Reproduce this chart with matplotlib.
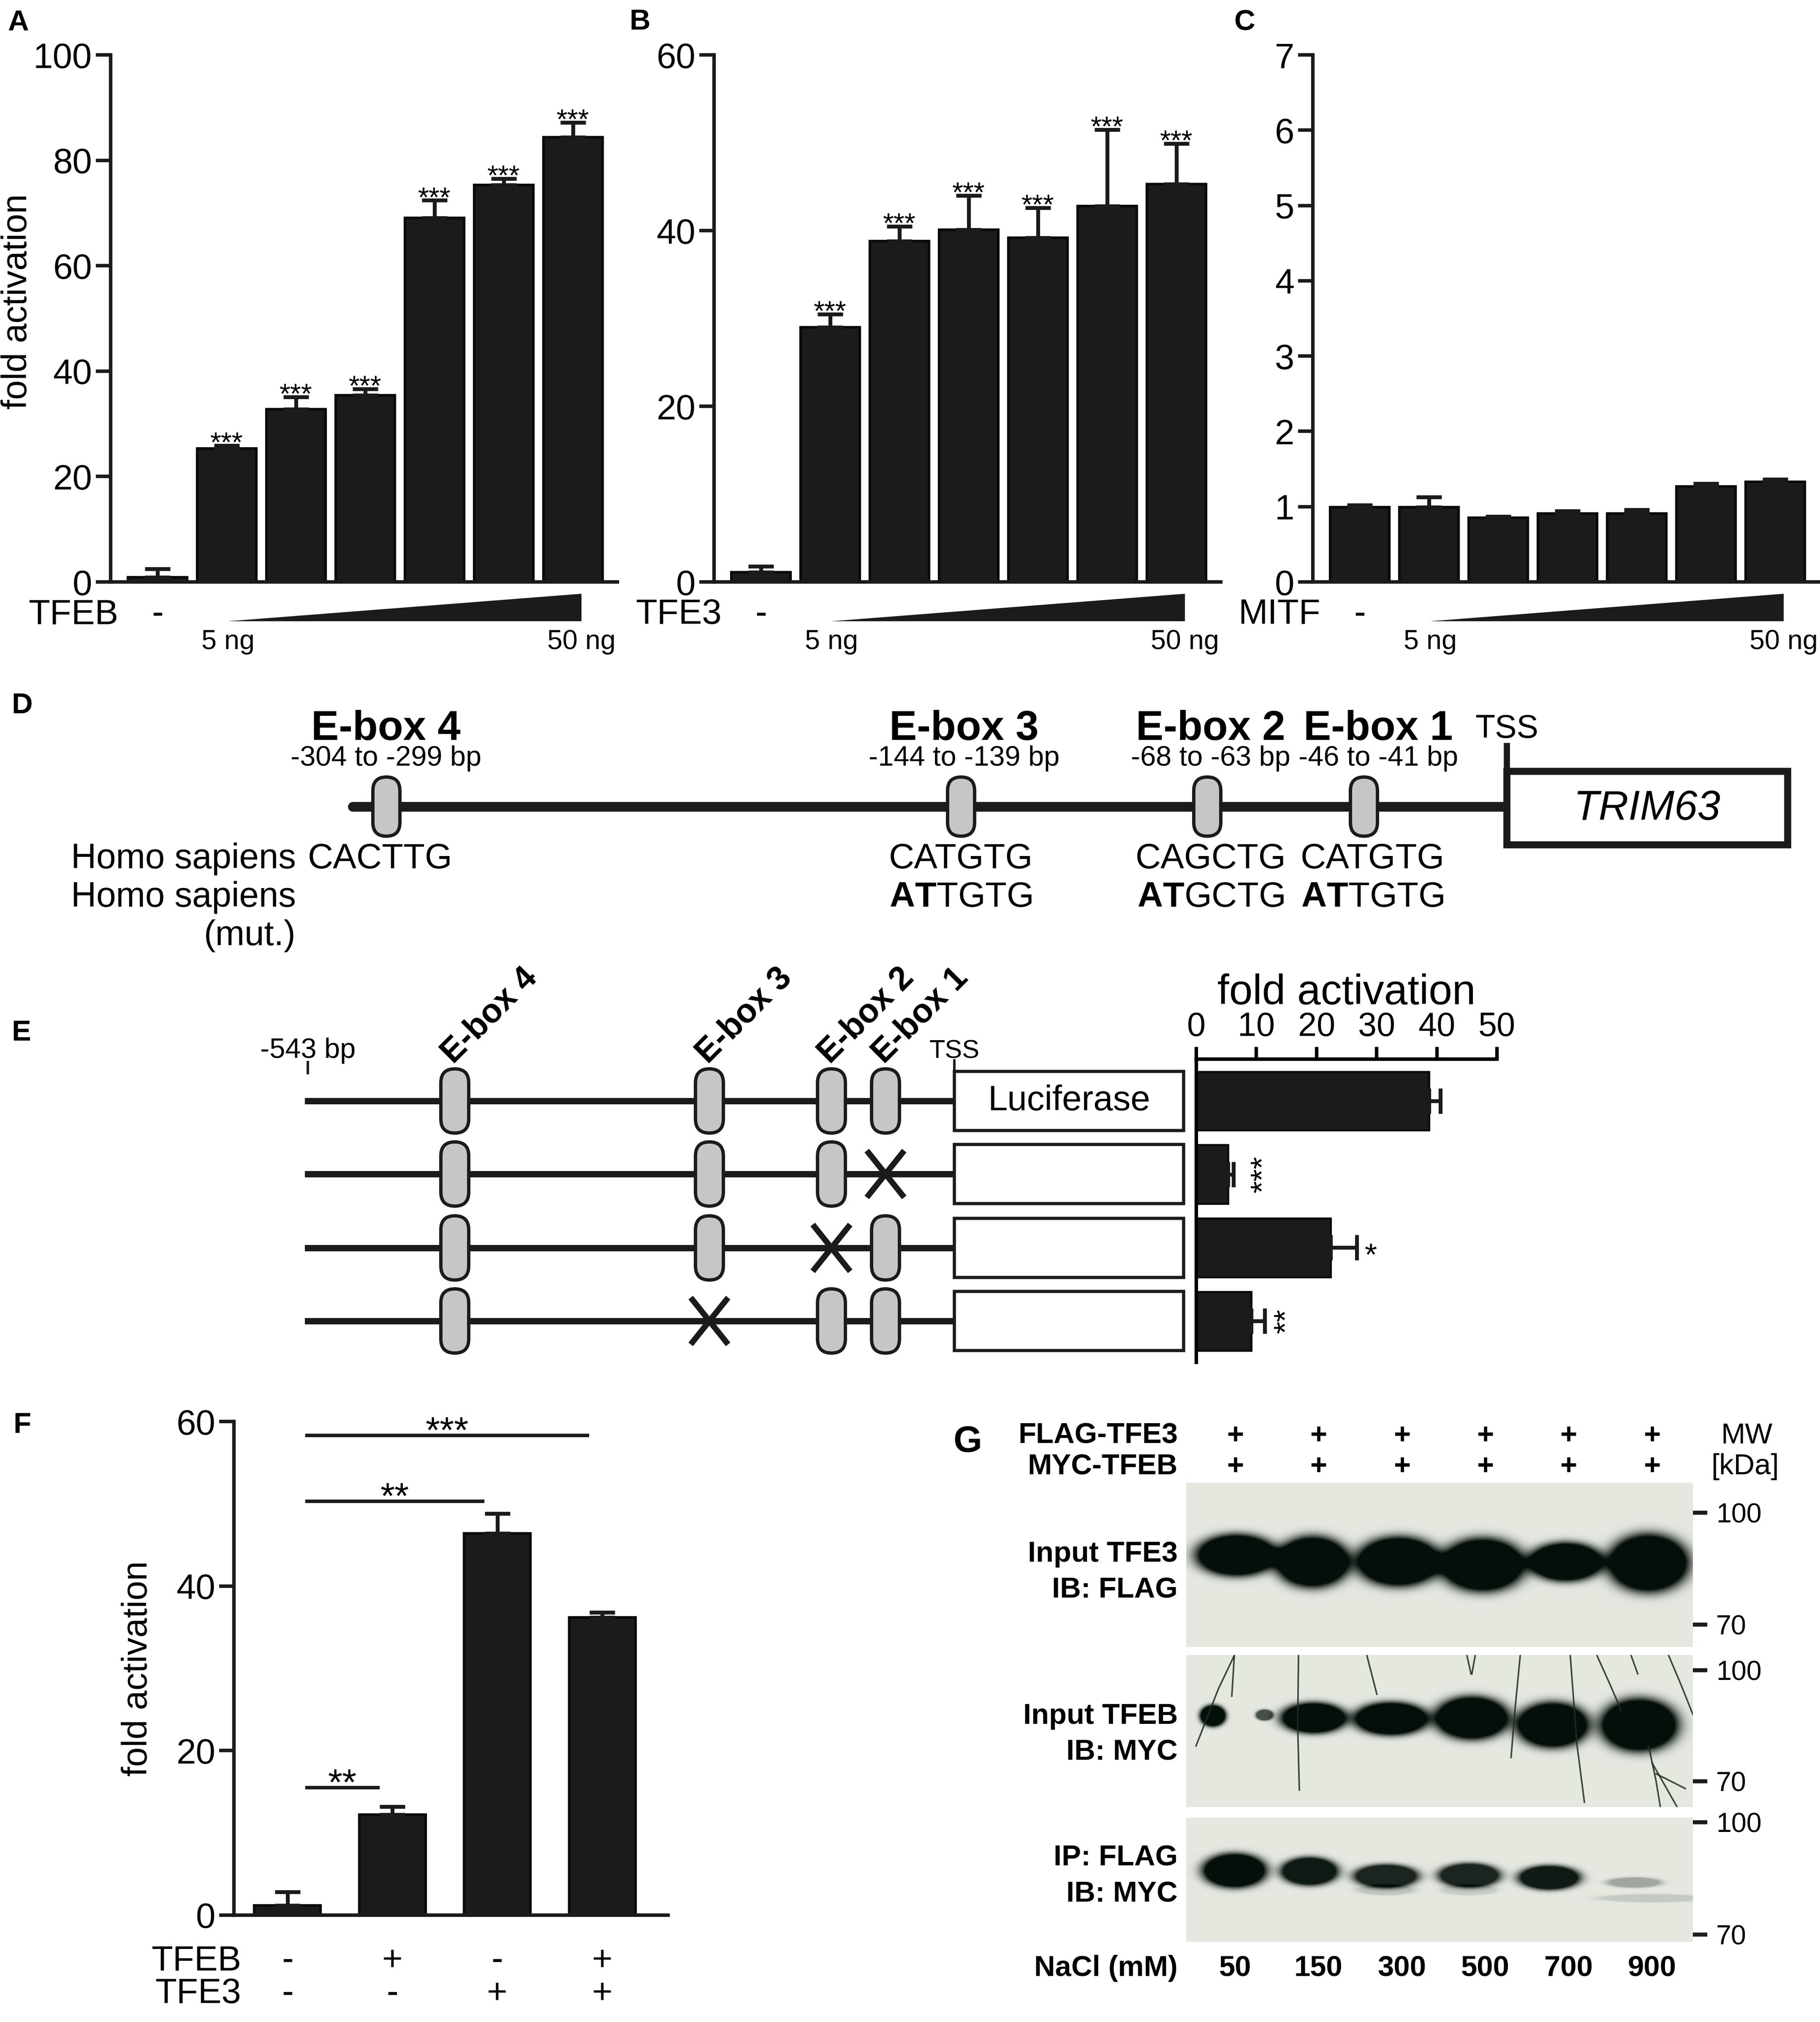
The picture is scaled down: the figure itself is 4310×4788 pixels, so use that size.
import numpy as np
import matplotlib
matplotlib.use('Agg')
import matplotlib.pyplot as plt
from matplotlib.patches import Polygon, Rectangle, FancyBboxPatch
from matplotlib.transforms import blended_transform_factory as blend

plt.rcParams['font.family'] = ['Liberation Sans', 'DejaVu Sans']
plt.rcParams['mathtext.fontset'] = 'custom'
plt.rcParams['mathtext.rm'] = 'Liberation Sans'
plt.rcParams['mathtext.bf'] = 'Liberation Sans:bold'
plt.rcParams['axes.facecolor'] = 'none'

W, H = 4310, 4788
INK = '#1b1b19'

# A-C: dose response of the TRIM63 reporter
tfeb_fold = [0.9, 25.3, 32.8, 35.4, 69.1, 75.3, 84.4]
tfeb_err = [1.6, 0.6, 2.3, 1.2, 3.3, 1.2, 2.8]
tfe3_fold = [1.1, 29.0, 38.8, 40.1, 39.2, 42.8, 45.3]
tfe3_err = [0.7, 1.5, 1.7, 3.9, 3.4, 8.7, 4.6]
mitf_fold = [0.99, 0.99, 0.85, 0.91, 0.91, 1.27, 1.33]
mitf_err = [0.03, 0.14, 0.02, 0.03, 0.05, 0.035, 0.035]
dose_ends = ['5 ng', '50 ng']

# D: promoter map
ebox_names = ['E-box 4', 'E-box 3', 'E-box 2', 'E-box 1']
ebox_ranges = ['-304 to -299 bp', '-144 to -139 bp', '-68 to -63 bp', '-46 to -41 bp']
seq_wt = ['CACTTG', 'CATGTG', 'CAGCTG', 'CATGTG']
seq_mut = [None, r'$\mathbf{AT}$TGTG', r'$\mathbf{AT}$GCTG', r'$\mathbf{AT}$TGTG']

# E: mutant constructs
construct_mutated = [None, 'E-box 1', 'E-box 2', 'E-box 3']
construct_fold = [38.7, 5.3, 22.3, 9.1]
construct_err = [1.9, 0.9, 4.4, 2.3]
construct_stars = ['', '***', '*', '**']

# F: TFEB / TFE3 combination
f_tfeb = ['-', '+', '-', '+']
f_tfe3 = ['-', '-', '+', '+']
f_fold = [1.2, 12.2, 46.4, 36.2]
f_err = [1.6, 1.0, 2.4, 0.6]
f_brackets = [(1, 15.5, '**'), (2, 50.3, '**'), (3, 58.3, '***')]

# G: co-IP under increasing salt
nacl_mm = [50, 150, 300, 500, 700, 900]
input_tfe3_signal = [1.0, 1.0, 1.0, 1.0, 1.0, 1.0]
input_tfeb_signal = [1.0, 1.0, 1.0, 1.0, 1.0, 1.0]
ip_tfeb_signal = [1.0, 0.95, 0.9, 0.9, 0.95, 0.3]

fig = plt.figure(figsize=(W / 300, H / 300), dpi=300)

ov = fig.add_axes([0, 0, 1, 1])
ov.set_xlim(0, W)
ov.set_ylim(H, 0)
ov.axis('off')


def px_axes(x0, y0, x1, y1):
    return fig.add_axes([x0 / W, 1 - y1 / H, (x1 - x0) / W, (y1 - y0) / H])


def letter(x, y, s, size=16.5):
    ov.text(x, y, s, ha='left', va='top', fontsize=size, fontweight='bold')


def bar_axes_style(ax, ticks):
    for s in ['top', 'right']:
        ax.spines[s].set_visible(False)
    for s in ['left', 'bottom']:
        ax.spines[s].set_linewidth(2.0)
        ax.spines[s].set_color(INK)
    ax.set_xticks([])
    ax.set_yticks(ticks)
    ax.tick_params(axis='y', length=8.5, width=2.0, labelsize=20, pad=2, color=INK)


def dose_panel(x0, fold, err, ticks, factor, stars):
    ax = px_axes(x0, 130, x0 + 1200, 1378)
    n = len(fold)
    pos = np.arange(n)
    ax.set_xlim(-111 / 164, (1200 - 111) / 164)
    ax.set_ylim(0, ticks[-1])
    ax.bar(pos, fold, 0.85, color=INK, edgecolor='#0a0a0a', lw=1.5, zorder=2)
    ax.errorbar(pos, fold, yerr=[np.zeros(n), err], fmt='none', ecolor=INK,
                elinewidth=2.2, capsize=7.2, capthick=2.2, zorder=3)
    bar_axes_style(ax, ticks)
    if stars:
        for i in range(1, n):
            ax.annotate('***', (pos[i], fold[i] + err[i]), xytext=(0, -3.5),
                        textcoords='offset points', ha='center', va='baseline',
                        fontsize=16)
    tr = blend(ax.transData, ov.transData)
    ov.text(x0 + 18, 1455, factor, ha='right', va='center', fontsize=20)
    ax.text(0, 1455, '-', transform=tr, ha='center', va='center', fontsize=20)
    ax.add_patch(Polygon([(1.02, 1471), (6.12, 1471), (6.12, 1406)], closed=True,
                         transform=tr, clip_on=False, fc=INK, ec='none'))
    ax.text(1.02, 1520, dose_ends[0], transform=tr, ha='center', va='center', fontsize=15.5)
    ax.text(6.12, 1520, dose_ends[1], transform=tr, ha='center', va='center', fontsize=15.5)
    return ax


# ---------------- A, B, C
dose_panel(262, tfeb_fold, tfeb_err, [0, 20, 40, 60, 80, 100], 'TFEB', True)
dose_panel(1691, tfe3_fold, tfe3_err, [0, 20, 40, 60], 'TFE3', True)
dose_panel(3109, mitf_fold, mitf_err, [0, 1, 2, 3, 4, 5, 6, 7], 'MITF', False)
ov.text(41, 714, 'fold activation', rotation=90, ha='center', va='center', fontsize=20)
letter(18, 22, 'A')
letter(1490, 20, 'B')
letter(2922, 22, 'C')

# ---------------- D
letter(27, 1639, 'D')
d_line_y = 1910
d_ebox_x = [915, 2276, 2859, 3230]
d_label_x = [914, 2283, 2867, 3264]
d_seq_x = [900, 2275, 2867, 3250]
tss_x = 3568
ov.plot([835, tss_x], [d_line_y, d_line_y], color=INK, lw=5.5,
        solid_capstyle='round', zorder=2)
for x, lx, sx, name, rng, wt, mut in zip(d_ebox_x, d_label_x, d_seq_x, ebox_names,
                                         ebox_ranges, seq_wt, seq_mut):
    ov.add_patch(FancyBboxPatch((x - 32, d_line_y - 70), 64, 140,
                                boxstyle='round,pad=0,rounding_size=32',
                                fc='#c6c6c6', ec=INK, lw=1.9, zorder=3))
    ov.text(lx, 1752, name, ha='center', va='baseline', fontsize=23.5, fontweight='bold')
    ov.text(lx, 1813, rng, ha='center', va='baseline', fontsize=16)
    ov.text(sx, 2056, wt, ha='center', va='baseline', fontsize=20)
    if mut:
        ov.text(sx, 2147, mut, ha='center', va='baseline', fontsize=20)
ov.plot([tss_x, tss_x], [1766, 1830], color=INK, lw=3.5, zorder=2)
ov.text(tss_x, 1747, 'TSS', ha='center', va='baseline', fontsize=18.5)
ov.add_patch(Rectangle((tss_x, 1826), 665, 174, fc='white', ec=INK, lw=4, zorder=4))
ov.text(tss_x + 332, 1915, 'TRIM63', ha='center', va='center', fontsize=23.5,
        style='italic', zorder=5)
ov.text(701, 2056, 'Homo sapiens', ha='right', va='baseline', fontsize=20)
ov.text(701, 2147, 'Homo sapiens', ha='right', va='baseline', fontsize=20)
ov.text(701, 2238, '(mut.)', ha='right', va='baseline', fontsize=20)

# ---------------- E
letter(27, 2414, 'E')
row_y = [2607, 2780, 2955, 3128]
e_ebox_x = [1077, 1680, 1969, 2097]
line_x0, box_x0, box_x1 = 729, 2260, 2803
ov.text(616, 2505, '-543 bp', ha='left', va='baseline', fontsize=16)
ov.plot([line_x0, line_x0], [2515, 2541], color=INK, lw=1.4)
ov.plot([box_x0, box_x0], [2511, 2537], color=INK, lw=1.4)
ov.text(box_x0, 2505, 'TSS', ha='center', va='baseline', fontsize=14.7)
for x, name in zip(e_ebox_x, ebox_names):
    ov.text(x - 4, row_y[0] - 86, name, rotation=45, rotation_mode='anchor',
            ha='left', va='baseline', fontsize=19, fontweight='bold')
for r, y in enumerate(row_y):
    ov.plot([line_x0, box_x0], [y, y], color=INK, lw=3.6, zorder=2)
    ov.add_patch(Rectangle((box_x0, y - 70), box_x1 - box_x0, 140, fc='white',
                           ec=INK, lw=1.8, zorder=3))
    for x, name in zip(e_ebox_x, ebox_names):
        if construct_mutated[r] == name:
            ov.plot([x - 40, x + 40], [y - 50, y + 50], color=INK, lw=3.3, zorder=4)
            ov.plot([x - 40, x + 40], [y + 50, y - 50], color=INK, lw=3.3, zorder=4)
        else:
            ov.add_patch(FancyBboxPatch((x - 33, y - 76), 66, 152,
                                        boxstyle='round,pad=0,rounding_size=33',
                                        fc='#c6c6c6', ec=INK, lw=1.9, zorder=3))
ov.text((box_x0 + box_x1) / 2, row_y[0], 'Luciferase', ha='center', va='center',
        fontsize=20, zorder=5)

axe = px_axes(2833, 2508, 3545, 3226)
axe.set_xlim(0, 50)
axe.set_ylim(3.564, -0.57)
rows = np.arange(len(construct_fold))
axe.barh(rows, construct_fold, 0.8, color=INK, edgecolor='#0a0a0a', lw=1.2, zorder=2)
axe.errorbar(construct_fold, rows, xerr=[np.zeros(len(rows)), construct_err], fmt='none',
             ecolor=INK, elinewidth=2.2, capsize=7.2, capthick=2.2, zorder=3)
for s in ['bottom', 'right']:
    axe.spines[s].set_visible(False)
for s in ['top', 'left']:
    axe.spines[s].set_linewidth(2.0)
axe.xaxis.tick_top()
axe.set_xticks(range(0, 51, 10))
axe.set_yticks([])
axe.tick_params(axis='x', length=7, width=2.0, labelsize=19, pad=2)
star_dx = [0, 9, 4.5, 4.5]
for i, s in enumerate(construct_stars):
    if not s:
        continue
    end = construct_fold[i] + construct_err[i]
    if len(s) > 1:
        axe.annotate(s, (end, i), xytext=(star_dx[i], 0), textcoords='offset points',
                     rotation=90, ha='left', va='center', fontsize=18)
    else:
        axe.annotate(s, (end, i), xytext=(star_dx[i], -10), textcoords='offset points',
                     ha='left', va='baseline', fontsize=18)
ov.text(3189, 2378, 'fold activation', ha='center', va='baseline', fontsize=24)

# ---------------- F
letter(31, 3343, 'F')
axf = px_axes(554, 3366, 1582, 4535)
fpos = np.arange(len(f_fold))
axf.set_xlim(-0.511, 3.628)
axf.set_ylim(0, 60)
axf.bar(fpos, f_fold, 0.632, color=INK, edgecolor='#0a0a0a', lw=1.5, zorder=2)
axf.errorbar(fpos, f_fold, yerr=[np.zeros(len(fpos)), f_err], fmt='none', ecolor=INK,
             elinewidth=2.2, capsize=7.2, capthick=2.2, zorder=3)
bar_axes_style(axf, [0, 20, 40, 60])
for target, yv, s in f_brackets:
    x0b, x1b = 0.185, target - 0.14
    axf.plot([x0b, x1b], [yv, yv], color=INK, lw=2.0, clip_on=False)
    axf.annotate(s, ((x0b + x1b) / 2, yv), xytext=(0, -4), textcoords='offset points',
                 ha='center', va='baseline', fontsize=21, annotation_clip=False)
ov.text(326, 3951, 'fold activation', rotation=90, ha='center', va='center', fontsize=20)
trf = blend(axf.transData, ov.transData)
ov.text(571, 4643, 'TFEB', ha='right', va='center', fontsize=20)
ov.text(571, 4721, 'TFE3', ha='right', va='center', fontsize=20)
for i in fpos:
    axf.text(i, 4643, f_tfeb[i], transform=trf, ha='center', va='center', fontsize=20)
    axf.text(i, 4721, f_tfe3[i], transform=trf, ha='center', va='center', fontsize=20)

# ---------------- G
letter(2257, 3375, 'G', size=21)
lane_x0, lane_pitch = 2925, 197.4
blot_x0, blot_x1 = 2809, 4009
gx = ((blot_x0 - lane_x0) / lane_pitch, (blot_x1 - lane_x0) / lane_pitch)

# (lane offset, centre kDa, half width in lanes, half height kDa)
blot1_shape = [(0.015, 88.6, 0.47, 5.4), (-0.073, 86.8, 0.43, 6.6), (-0.04, 86.9, 0.49, 6.4),
               (-0.03, 86.0, 0.49, 6.9), (-0.03, 86.8, 0.43, 5.0), (-0.04, 86.5, 0.47, 7.5)]
blot2_shape = [(-0.27, 87.7, 0.15, 2.8), (-0.06, 87.1, 0.38, 4.0), (-0.13, 86.9, 0.43, 4.3),
               (-0.16, 87.1, 0.43, 5.6), (-0.19, 85.2, 0.42, 5.9), (-0.15, 85.2, 0.45, 6.9)]
blot3_shape = [(-0.01, 87.1, 0.37, 4.4), (-0.11, 86.9, 0.33, 3.6), (-0.19, 85.6, 0.37, 3.0),
               (-0.19, 85.8, 0.355, 3.1), (-0.23, 85.2, 0.355, 3.1), (-0.21, 83.9, 0.31, 1.3)]
blot2_extra = [(0.35, 87.9, 0.1, 1.4, 0.7)]
blot3_extra = [(1.81, 81.9, 0.33, 1.3, 0.15), (2.81, 81.9, 0.32, 1.3, 0.12),
               (5.0, 79.7, 0.6, 1.0, 0.14)]
blot2_streaks = [[(-0.01, 104), (-0.2, 95), (-0.47, 79.5)], [(-0.01, 104), (-0.04, 93)],
                 [(0.76, 104), (0.75, 85), (0.77, 67.6)], [(1.58, 104), (1.7, 93.5)],
                 [(2.78, 104), (2.83, 99)], [(2.88, 104), (2.84, 99)],
                 [(3.42, 104), (3.36, 90), (3.31, 76.4)], [(4.02, 104), (4.1, 80), (4.19, 64.3)],
                 [(4.34, 104), (4.5, 96), (4.63, 89.2)], [(4.75, 104), (4.83, 99)],
                 [(5.2, 104), (5.35, 96), (5.49, 88.1)], [(4.96, 79.5), (5.05, 70), (5.1, 63.1)],
                 [(5.0, 75), (5.3, 63.1)], [(5.05, 72), (5.4, 68)]]


def blot(y0, y1, kda_top, kda_bot, shapes, signal, extra=(), streaks=()):
    ax = px_axes(blot_x0, y0, blot_x1, y1)
    ax.set_xlim(*gx)
    ax.set_ylim(kda_bot, kda_top)
    xs = np.linspace(gx[0], gx[1], 800)
    ys = np.linspace(kda_bot, kda_top, 260)
    X, Y = np.meshgrid(xs, ys)
    dens = np.zeros_like(X)
    bands = [(i + dx, cy, hx, hy, signal[i]) for i, (dx, cy, hx, hy) in enumerate(shapes)]
    for cx, cy, hx, hy, amp in list(bands) + list(extra):
        r = np.sqrt(((X - cx) / hx) ** 2 + ((Y - cy) / hy) ** 2)
        dens += amp * np.clip(2.2 * np.exp(-r ** 4), 0, 1)
    dens = np.clip(dens, 0, 1)[..., None]
    bg = np.array([0.895, 0.91, 0.878])
    ink = np.array([0.02, 0.06, 0.04])
    ax.imshow(bg * (1 - dens) + ink * dens, extent=[gx[0], gx[1], kda_bot, kda_top],
              origin='lower', aspect='auto', interpolation='bilinear')
    for line in streaks:
        sx, sy = zip(*line)
        ax.plot(sx, sy, color='#1e2c22', lw=0.9, alpha=0.85)
    for s in ax.spines.values():
        s.set_visible(False)
    ax.set_xticks([])
    ax.yaxis.tick_right()
    ax.set_yticks([70, 100])
    ax.tick_params(axis='y', right=True, left=False, length=8.2, width=2.3,
                   labelsize=15.5, pad=5, color=INK)
    return ax


b1 = blot(3511, 3900, 108.0, 64.0, blot1_shape, input_tfe3_signal)
b2 = blot(3919, 4279, 104.1, 63.0, blot2_shape, input_tfeb_signal, blot2_extra, blot2_streaks)
b3 = blot(4304, 4598, 101.2, 68.1, blot3_shape, ip_tfeb_signal, blot3_extra)

trg = blend(b1.transData, ov.transData)
bold = dict(fontsize=16.5, fontweight='bold')
ov.text(2789, 3400, 'FLAG-TFE3', ha='right', va='center', **bold)
ov.text(2789, 3473, 'MYC-TFEB', ha='right', va='center', **bold)
ov.text(4136, 3400, 'MW', ha='center', va='center', fontsize=16.5)
ov.text(4132, 3473, '[kDa]', ha='center', va='center', fontsize=16.5)
for i, mm in enumerate(nacl_mm):
    b1.text(i, 3400, '+', transform=trg, ha='center', va='center', **bold)
    b1.text(i, 3473, '+', transform=trg, ha='center', va='center', **bold)
    b1.text(i, 4661, str(mm), transform=trg, ha='center', va='center', **bold)
ov.text(2789, 3680, 'Input TFE3', ha='right', va='center', **bold)
ov.text(2789, 3765, 'IB: FLAG', ha='right', va='center', **bold)
ov.text(2789, 4064, 'Input TFEB', ha='right', va='center', **bold)
ov.text(2789, 4149, 'IB: MYC', ha='right', va='center', **bold)
ov.text(2789, 4400, 'IP: FLAG', ha='right', va='center', **bold)
ov.text(2789, 4486, 'IB: MYC', ha='right', va='center', **bold)
ov.text(2789, 4661, 'NaCl (mM)', ha='right', va='center', **bold)

fig.savefig('out.png', dpi=300)
